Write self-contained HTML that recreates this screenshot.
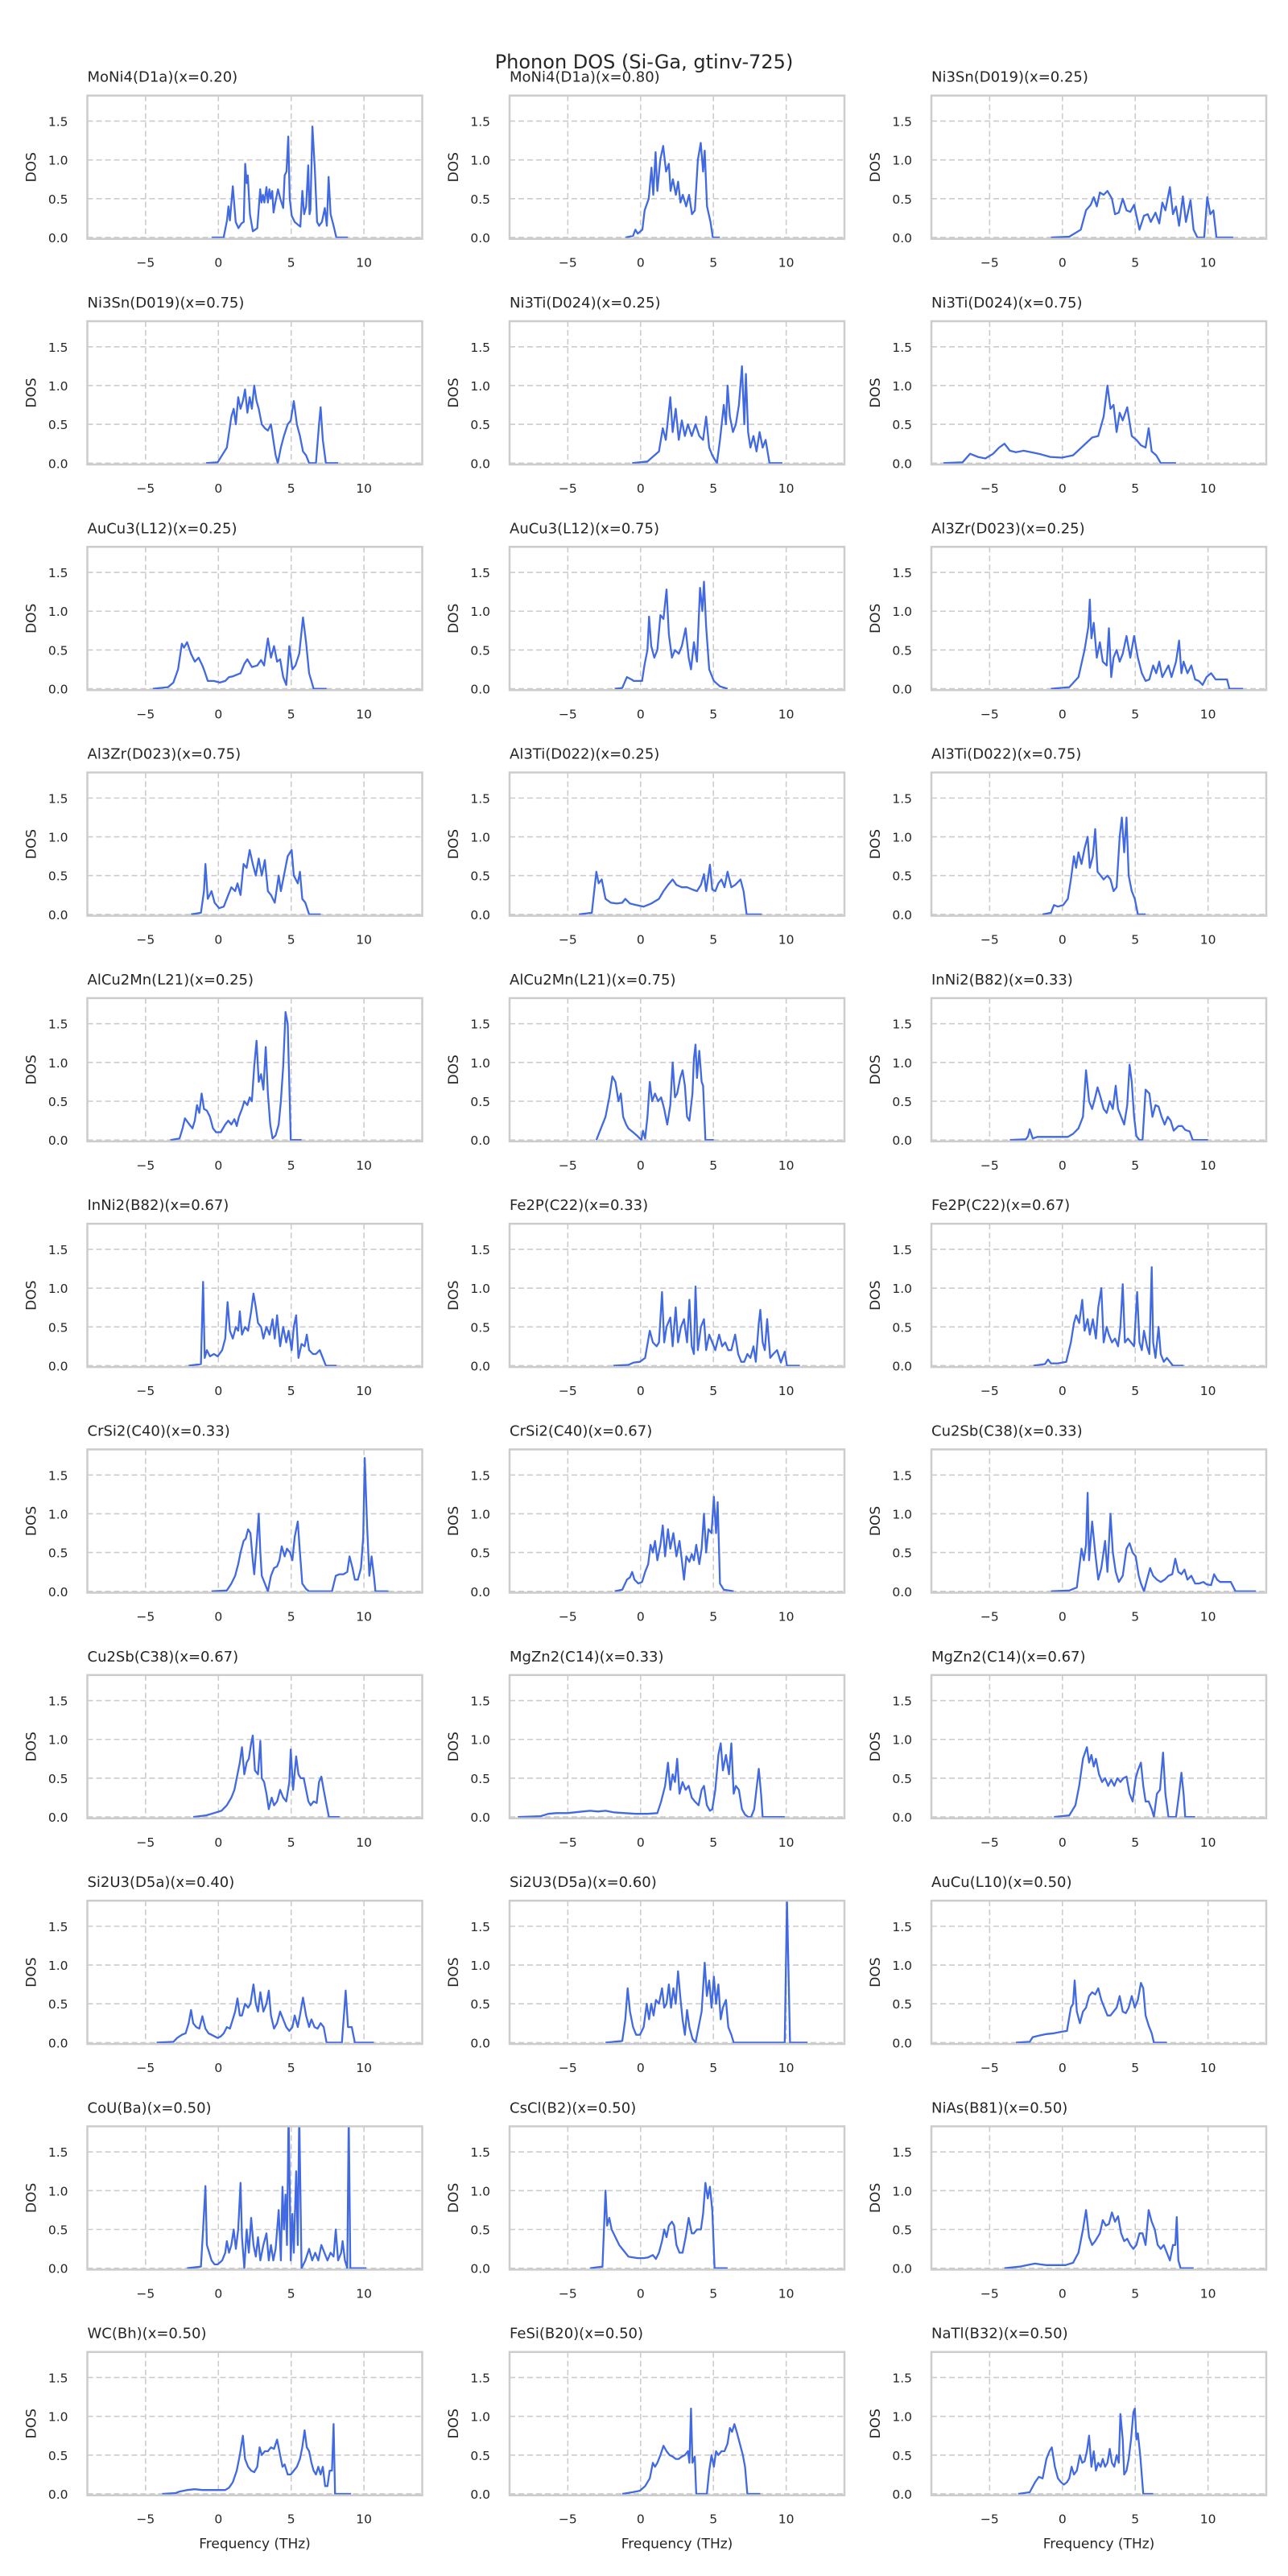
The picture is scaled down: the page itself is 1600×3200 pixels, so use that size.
<!DOCTYPE html>
<html><head><meta charset="utf-8"><title>Phonon DOS (Si-Ga, gtinv-725)</title>
<style>
html,body{margin:0;padding:0;background:#fff;}
svg{display:block;font-family:"DejaVu Sans","Liberation Sans",sans-serif;}
</style></head>
<body>
<svg id="fig" width="1600" height="3200" viewBox="0 0 1600 3200" xmlns="http://www.w3.org/2000/svg">
<rect width="1600" height="3200" fill="#ffffff"/>
<text x="800" y="85" text-anchor="middle" font-size="24" fill="#262626">Phonon DOS (Si-Ga, gtinv-725)</text>
</svg>
<script>
const titles = ["MoNi4(D1a)(x=0.20)","MoNi4(D1a)(x=0.80)","Ni3Sn(D019)(x=0.25)","Ni3Sn(D019)(x=0.75)","Ni3Ti(D024)(x=0.25)","Ni3Ti(D024)(x=0.75)","AuCu3(L12)(x=0.25)","AuCu3(L12)(x=0.75)","Al3Zr(D023)(x=0.25)","Al3Zr(D023)(x=0.75)","Al3Ti(D022)(x=0.25)","Al3Ti(D022)(x=0.75)","AlCu2Mn(L21)(x=0.25)","AlCu2Mn(L21)(x=0.75)","InNi2(B82)(x=0.33)","InNi2(B82)(x=0.67)","Fe2P(C22)(x=0.33)","Fe2P(C22)(x=0.67)","CrSi2(C40)(x=0.33)","CrSi2(C40)(x=0.67)","Cu2Sb(C38)(x=0.33)","Cu2Sb(C38)(x=0.67)","MgZn2(C14)(x=0.33)","MgZn2(C14)(x=0.67)","Si2U3(D5a)(x=0.40)","Si2U3(D5a)(x=0.60)","AuCu(L10)(x=0.50)","CoU(Ba)(x=0.50)","CsCl(B2)(x=0.50)","NiAs(B81)(x=0.50)","WC(Bh)(x=0.50)","FeSi(B20)(x=0.50)","NaTl(B32)(x=0.50)"];
const xTicks = [-5, 0, 5, 10];
const yTicks = [0, 0.5, 1.0, 1.5];
const yTickLabels = ["0.0", "0.5", "1.0", "1.5"];

const freq_1 = [-0.45,0.36,0.59,0.69,0.79,0.99,1.19,1.38,1.58,1.74,1.84,1.94,2.02,2.17,2.37,2.67,2.87,2.96,3.06,3.16,3.3,3.4,3.5,3.6,3.7,3.79,3.91,4.09,4.25,4.45,4.55,4.68,4.8,4.9,5.04,5.24,5.43,5.63,5.77,5.89,6.03,6.17,6.26,6.32,6.46,6.62,6.78,6.92,7.11,7.31,7.45,7.57,7.71,7.91,8.1,8.89];
const dos_1 = [0,0,0.22,0.4,0.22,0.66,0.2,0.12,0.18,0.2,0.95,0.7,0.8,0.3,0.08,0.12,0.62,0.45,0.55,0.45,0.65,0.45,0.62,0.5,0.6,0.32,0.45,0.62,0.5,0.38,0.8,0.85,1.3,0.5,0.28,0.2,0.17,0.14,0.6,0.3,0.4,0.93,0.3,0.35,1.43,0.9,0.2,0.15,0.2,0.38,0.15,0.78,0.3,0.15,0,0];
const freq_2 = [-1.03,-0.52,-0.36,-0.2,0.12,0.28,0.56,0.75,0.87,1.03,1.15,1.35,1.55,1.75,1.94,2.06,2.22,2.42,2.58,2.74,2.9,3.13,3.33,3.53,3.73,3.93,4.13,4.29,4.4,4.56,4.8,4.96,5.44];
const dos_2 = [0,0.02,0.1,0.05,0.1,0.35,0.5,0.9,0.55,1.1,0.6,1.0,1.18,0.85,0.95,0.6,0.75,0.55,0.72,0.45,0.55,0.4,0.55,0.3,0.35,1.0,1.22,0.85,1.12,0.4,0.2,0,0];
const freq_3 = [-0.79,0.47,1.26,1.62,1.94,2.15,2.36,2.57,2.83,3.09,3.4,3.61,3.87,4.14,4.4,4.66,4.92,5.29,5.6,5.86,6.07,6.39,6.65,6.86,7.07,7.38,7.59,7.8,8.01,8.27,8.48,8.8,9.01,9.27,9.74,9.95,10.16,10.37,10.58,11.73];
const dos_3 = [0,0.01,0.1,0.35,0.42,0.52,0.4,0.58,0.55,0.6,0.5,0.3,0.32,0.5,0.35,0.33,0.42,0.1,0.28,0.3,0.2,0.32,0.18,0.45,0.35,0.65,0.3,0.4,0.15,0.53,0.2,0.48,0.1,0,0,0.52,0.3,0.35,0,0];
const freq_4 = [-0.84,-0.05,0.58,0.89,1.05,1.2,1.36,1.52,1.68,1.83,1.99,2.15,2.3,2.46,2.62,2.77,2.98,3.19,3.4,3.61,3.77,3.93,4.08,4.29,4.5,4.76,4.97,5.18,5.39,5.6,5.81,6.02,6.23,6.7,6.91,7.02,7.17,7.38,8.22];
const dos_4 = [0,0.01,0.2,0.6,0.7,0.5,0.85,0.7,0.8,0.95,0.65,0.85,0.7,1.0,0.8,0.7,0.5,0.45,0.42,0.5,0.3,0.1,0,0.2,0.35,0.5,0.55,0.8,0.5,0.35,0.15,0.1,0,0,0.5,0.72,0.3,0,0];
const freq_5 = [-0.58,0.47,1.26,1.52,1.73,2.04,2.2,2.41,2.62,2.83,3.04,3.25,3.51,3.77,4.03,4.29,4.5,4.71,4.92,5.24,5.45,5.71,5.86,5.97,6.13,6.34,6.54,6.75,6.96,7.12,7.23,7.38,7.54,7.75,7.96,8.17,8.38,8.59,8.85,9.74];
const dos_5 = [0,0.02,0.15,0.45,0.3,0.85,0.4,0.7,0.3,0.55,0.35,0.5,0.35,0.5,0.35,0.3,0.6,0.2,0.1,0,0.3,0.75,0.5,1.0,0.6,0.4,0.5,0.75,1.25,0.5,1.15,0.4,0.2,0.35,0.15,0.4,0.2,0.3,0,0];
const freq_6 = [-8.17,-6.86,-6.34,-5.81,-5.29,-4.76,-4.35,-3.98,-3.61,-3.19,-2.67,-2.15,-1.62,-0.84,-0.05,0.73,1.41,2.04,2.46,2.83,3.09,3.3,3.51,3.72,3.93,4.14,4.45,4.76,5.08,5.39,5.71,5.92,6.13,6.44,6.75,7.8];
const dos_6 = [0,0.01,0.12,0.08,0.06,0.12,0.2,0.25,0.16,0.14,0.16,0.14,0.12,0.08,0.07,0.1,0.22,0.33,0.35,0.6,1.0,0.7,0.75,0.4,0.65,0.55,0.72,0.35,0.3,0.23,0.2,0.45,0.15,0.1,0,0];
const freq_7 = [-4.5,-3.46,-3.09,-2.77,-2.51,-2.36,-2.15,-1.88,-1.62,-1.36,-1.1,-0.94,-0.73,-0.31,0.1,0.47,0.73,0.99,1.52,1.78,1.99,2.3,2.67,2.93,3.14,3.4,3.61,3.82,4.03,4.24,4.45,4.66,4.87,5.08,5.29,5.55,5.81,6.02,6.23,6.54,7.43];
const dos_7 = [0,0.02,0.08,0.25,0.58,0.53,0.6,0.45,0.35,0.4,0.3,0.22,0.1,0.1,0.08,0.1,0.15,0.16,0.2,0.32,0.38,0.28,0.3,0.37,0.3,0.65,0.4,0.55,0.35,0.38,0.15,0.05,0.55,0.25,0.3,0.45,0.92,0.6,0.2,0,0];
const freq_8 = [-1.78,-1.26,-0.94,-0.63,-0.47,-0.1,0.1,0.26,0.47,0.58,0.73,0.94,1.15,1.36,1.57,1.78,1.94,2.15,2.36,2.62,2.83,3.09,3.3,3.46,3.66,3.87,4.08,4.24,4.35,4.5,4.71,5.03,5.45,5.97];
const dos_8 = [0,0.01,0.15,0.12,0.1,0.1,0.1,0.3,0.5,0.93,0.55,0.4,0.5,0.95,0.9,1.28,0.7,0.4,0.5,0.45,0.55,0.78,0.4,0.25,0.6,0.35,1.3,1.0,1.38,0.8,0.25,0.1,0.03,0];
const freq_9 = [-0.79,0.47,1.1,1.52,1.78,1.88,1.99,2.15,2.36,2.57,2.77,3.04,3.19,3.35,3.51,3.72,3.93,4.14,4.4,4.66,4.92,5.18,5.45,5.71,5.97,6.23,6.44,6.65,6.86,7.28,7.49,7.8,8.01,8.17,8.32,8.59,8.85,9.11,9.37,9.63,9.9,10.21,10.52,10.94,11.31,11.47,12.41];
const dos_9 = [0,0.02,0.15,0.5,0.8,1.15,0.65,0.85,0.4,0.6,0.35,0.3,0.78,0.15,0.4,0.5,0.35,0.45,0.68,0.4,0.68,0.4,0.2,0.1,0.12,0.3,0.2,0.35,0.15,0.3,0.15,0.35,0.62,0.2,0.35,0.2,0.3,0.12,0.1,0.05,0.15,0.2,0.12,0.12,0.12,0,0];
const freq_10 = [-1.88,-1.2,-0.99,-0.89,-0.73,-0.47,-0.26,0.05,0.37,0.68,0.89,1.15,1.31,1.52,1.73,1.94,2.15,2.36,2.57,2.77,2.98,3.19,3.4,3.61,3.87,4.14,4.29,4.5,4.76,5.03,5.18,5.45,5.6,5.76,5.97,6.23,7.02];
const dos_10 = [0,0.02,0.3,0.65,0.2,0.3,0.15,0.08,0.1,0.25,0.35,0.3,0.4,0.25,0.65,0.6,0.83,0.65,0.5,0.72,0.5,0.7,0.3,0.25,0.15,0.5,0.3,0.5,0.75,0.83,0.5,0.4,0.55,0.2,0.15,0,0];
const freq_11 = [-4.24,-3.35,-3.04,-2.88,-2.67,-2.41,-2.04,-1.62,-1.26,-1.05,-0.73,-0.31,0.21,0.73,1.26,1.57,1.88,2.2,2.46,2.83,3.19,3.56,3.87,4.14,4.35,4.5,4.76,4.92,5.13,5.34,5.55,5.76,5.97,6.23,6.49,6.86,7.07,7.28,8.32];
const dos_11 = [0,0.02,0.55,0.4,0.45,0.2,0.15,0.14,0.15,0.2,0.14,0.12,0.1,0.14,0.2,0.3,0.38,0.45,0.38,0.35,0.35,0.32,0.3,0.38,0.52,0.3,0.64,0.32,0.3,0.4,0.45,0.35,0.55,0.35,0.38,0.45,0.3,0,0];
const freq_12 = [-1.36,-0.79,-0.58,-0.31,0.05,0.37,0.58,0.79,0.94,1.1,1.31,1.52,1.73,1.88,2.09,2.25,2.41,2.62,2.83,3.09,3.3,3.51,3.72,3.93,4.08,4.24,4.4,4.55,4.76,4.97,5.18,5.71];
const dos_12 = [0,0.02,0.12,0.1,0.12,0.2,0.45,0.75,0.6,0.8,0.65,0.85,1.0,0.6,0.75,1.1,0.55,0.5,0.45,0.5,0.45,0.3,0.35,1.0,1.25,0.8,1.25,0.5,0.3,0.2,0,0];
const freq_13 = [-3.3,-2.67,-2.46,-2.3,-1.99,-1.78,-1.62,-1.47,-1.31,-1.15,-0.99,-0.79,-0.58,-0.37,-0.16,0.16,0.47,0.68,0.89,1.1,1.26,1.41,1.62,1.78,1.99,2.15,2.3,2.46,2.62,2.77,2.93,3.09,3.25,3.4,3.56,3.72,3.93,4.14,4.29,4.45,4.61,4.76,4.97,5.71];
const dos_13 = [0,0.02,0.15,0.28,0.2,0.15,0.25,0.45,0.35,0.6,0.4,0.38,0.3,0.15,0.1,0.1,0.2,0.25,0.2,0.27,0.18,0.3,0.4,0.5,0.45,0.55,0.5,0.95,1.28,0.75,0.85,0.65,1.2,0.6,0.2,0.02,0.06,0.2,0.5,0.95,1.65,1.5,0,0];
const freq_14 = [-3.04,-2.41,-2.15,-1.94,-1.73,-1.52,-1.36,-1.2,-0.99,-0.84,-0.52,-0.21,0.05,0.16,0.31,0.47,0.63,0.79,0.99,1.2,1.41,1.62,1.83,2.04,2.2,2.36,2.51,2.72,2.88,3.04,3.19,3.35,3.56,3.66,3.77,3.87,4.03,4.19,4.29,4.45,5.03];
const dos_14 = [0,0.3,0.55,0.82,0.75,0.5,0.6,0.3,0.2,0.15,0.1,0.05,0,0.12,0.02,0.3,0.75,0.5,0.6,0.5,0.55,0.4,0.2,0.45,1.0,0.55,0.6,0.8,0.9,0.7,0.3,0.25,0.6,1.05,1.23,0.8,1.15,0.75,0.7,0,0];
const freq_15 = [-3.61,-2.51,-2.36,-2.25,-2.04,-1.73,-1.1,-0.31,0.37,0.73,1.1,1.41,1.62,1.83,2.04,2.25,2.41,2.62,2.83,3.04,3.25,3.46,3.66,3.82,4.03,4.24,4.45,4.61,4.76,4.92,5.08,5.29,5.5,5.71,5.97,6.18,6.39,6.6,6.81,7.02,7.23,7.43,7.64,7.96,8.22,8.43,8.74,8.95,10.0];
const dos_15 = [0,0.01,0.05,0.14,0.02,0.04,0.04,0.04,0.04,0.08,0.15,0.3,0.9,0.5,0.4,0.55,0.68,0.55,0.4,0.35,0.5,0.4,0.7,0.4,0.3,0.2,0.45,0.97,0.75,0.3,0.05,0,0,0.65,0.6,0.3,0.45,0.43,0.3,0.2,0.3,0.25,0.12,0.18,0.18,0.13,0.11,0,0];
const freq_16 = [-2.04,-1.2,-1.05,-0.94,-0.79,-0.58,-0.31,-0.05,0.26,0.47,0.63,0.79,0.99,1.2,1.36,1.47,1.62,1.83,2.04,2.25,2.41,2.57,2.72,2.93,3.09,3.3,3.51,3.72,3.87,4.03,4.24,4.45,4.66,4.82,5.03,5.18,5.34,5.5,5.71,5.92,6.07,6.23,6.49,6.7,6.96,7.17,7.38,8.12];
const dos_16 = [0,0.02,1.08,0.1,0.2,0.12,0.15,0.12,0.2,0.35,0.82,0.45,0.35,0.5,0.45,0.7,0.4,0.5,0.45,0.7,0.93,0.75,0.55,0.5,0.35,0.5,0.4,0.6,0.35,0.65,0.25,0.5,0.3,0.45,0.2,0.5,0.65,0.1,0.28,0.25,0.4,0.2,0.15,0.15,0.2,0.1,0,0];
const freq_17 = [-1.88,-0.84,-0.47,-0.05,0.31,0.63,0.84,1.1,1.26,1.47,1.62,1.78,2.04,2.2,2.41,2.57,2.77,2.98,3.19,3.35,3.51,3.66,3.77,3.93,4.14,4.35,4.5,4.71,4.92,5.13,5.39,5.6,5.81,6.02,6.23,6.49,6.7,6.91,7.12,7.33,7.54,7.75,7.91,8.12,8.22,8.38,8.53,8.69,8.9,9.11,9.37,9.63,9.9,10.05,10.94];
const dos_17 = [0,0.01,0.04,0.05,0.1,0.45,0.3,0.25,0.3,0.95,0.3,0.5,0.62,0.25,0.75,0.3,0.5,0.6,0.3,0.85,0.25,0.15,1.02,0.2,0.5,0.6,0.2,0.4,0.3,0.2,0.4,0.25,0.3,0.2,0.2,0.4,0.15,0.05,0.05,0.15,0.1,0.25,0.05,0.55,0.72,0.3,0.2,0.6,0.1,0.15,0.2,0.04,0.18,0,0];
const freq_18 = [-1.99,-1.2,-0.99,-0.79,-0.31,0.26,0.58,0.79,0.94,1.15,1.36,1.52,1.73,1.88,2.09,2.3,2.46,2.67,2.83,3.04,3.19,3.4,3.61,3.82,3.98,4.14,4.29,4.5,4.71,4.92,5.13,5.29,5.45,5.6,5.81,5.97,6.13,6.23,6.39,6.6,6.75,6.96,7.17,7.38,7.59,8.32];
const dos_18 = [0,0.02,0.08,0.03,0.03,0.05,0.3,0.55,0.65,0.55,0.85,0.45,0.6,0.4,0.6,0.35,0.75,1.0,0.3,0.5,0.4,0.3,0.35,0.25,0.5,1.05,0.3,0.35,0.3,0.25,0.95,0.3,0.2,0.45,0.25,0.15,1.27,0.3,0.1,0.5,0.15,0.05,0.1,0.05,0,0];
const freq_19 = [-0.47,0.58,0.89,1.15,1.36,1.52,1.73,1.88,2.04,2.2,2.36,2.46,2.62,2.77,2.88,2.98,3.19,3.4,3.61,3.82,4.03,4.19,4.35,4.55,4.71,4.92,5.08,5.24,5.45,5.6,5.76,6.02,6.23,7.8,8.06,8.32,8.59,8.85,9.01,9.21,9.37,9.58,9.79,9.95,10.05,10.21,10.37,10.52,10.68,10.79,11.68];
const dos_19 = [0,0.01,0.1,0.2,0.35,0.5,0.65,0.68,0.8,0.75,0.4,0.22,0.6,1.0,0.5,0.2,0.1,0,0.2,0.3,0.32,0.4,0.58,0.45,0.55,0.5,0.4,0.7,0.9,0.5,0.1,0.03,0,0,0.2,0.22,0.22,0.25,0.45,0.3,0.15,0.15,0.3,0.7,1.72,0.85,0.2,0.45,0.2,0,0];
const freq_20 = [-1.78,-1.26,-0.94,-0.73,-0.58,-0.42,-0.16,0.1,0.31,0.52,0.68,0.84,0.99,1.15,1.36,1.52,1.68,1.88,2.04,2.25,2.46,2.67,2.83,2.98,3.14,3.35,3.51,3.66,3.82,4.03,4.19,4.35,4.5,4.66,4.87,5.03,5.18,5.29,5.45,5.71,6.39];
const dos_20 = [0,0.02,0.15,0.18,0.25,0.15,0.1,0.12,0.25,0.35,0.6,0.5,0.65,0.4,0.6,0.85,0.45,0.8,0.55,0.75,0.45,0.65,0.4,0.15,0.45,0.38,0.48,0.4,0.6,0.35,0.55,1.0,0.5,0.8,0.75,1.22,0.75,1.15,0.1,0.02,0];
const freq_21 = [-0.79,0.47,0.99,1.31,1.47,1.62,1.73,1.83,2.04,2.25,2.46,2.67,2.93,3.09,3.3,3.46,3.66,3.87,4.14,4.4,4.61,4.82,5.03,5.24,5.39,5.6,5.81,6.02,6.23,6.49,6.75,7.02,7.28,7.54,7.75,7.96,8.17,8.38,8.59,8.85,9.11,9.37,9.69,9.9,10.21,10.42,10.63,10.84,11.2,11.57,11.88,13.3];
const dos_21 = [0,0.01,0.05,0.55,0.4,0.6,1.27,0.4,0.9,0.5,0.15,0.3,0.65,0.25,1.0,0.5,0.25,0.12,0.2,0.55,0.62,0.5,0.45,0.2,0.1,0,0.15,0.3,0.2,0.15,0.12,0.15,0.2,0.22,0.42,0.25,0.22,0.28,0.15,0.2,0.1,0.1,0.12,0.09,0.08,0.22,0.15,0.12,0.12,0.12,0,0];
const freq_22 = [-1.73,-0.84,-0.31,0.21,0.58,0.89,1.1,1.31,1.47,1.62,1.78,1.94,2.09,2.25,2.36,2.51,2.72,2.88,2.98,3.14,3.3,3.46,3.66,3.82,4.03,4.24,4.45,4.66,4.87,4.97,5.13,5.34,5.5,5.65,5.86,6.02,6.18,6.34,6.54,6.75,6.91,7.07,7.23,7.43,7.59,8.32];
const dos_22 = [0,0.02,0.05,0.08,0.15,0.25,0.35,0.55,0.7,0.9,0.55,0.7,0.75,0.95,1.05,0.6,0.55,0.98,0.5,0.45,0.3,0.1,0.25,0.15,0.2,0.35,0.25,0.2,0.45,0.87,0.35,0.78,0.55,0.5,0.5,0.35,0.2,0.15,0.2,0.18,0.45,0.52,0.35,0.15,0,0];
const freq_23 = [-8.43,-6.86,-6.34,-5.81,-5.03,-3.98,-3.46,-2.93,-2.41,-1.88,-1.1,-0.31,0.47,1.15,1.41,1.68,1.88,2.04,2.2,2.36,2.51,2.67,2.88,3.09,3.3,3.51,3.72,3.98,4.19,4.35,4.55,4.76,4.92,5.13,5.34,5.5,5.65,5.86,6.07,6.23,6.39,6.54,6.75,6.96,7.17,7.38,7.59,7.8,8.12,8.27,8.38,9.9];
const dos_23 = [0,0.01,0.04,0.05,0.05,0.07,0.08,0.07,0.08,0.06,0.05,0.04,0.04,0.05,0.2,0.4,0.7,0.35,0.55,0.45,0.75,0.3,0.45,0.35,0.4,0.25,0.2,0.15,0.35,0.4,0.15,0.08,0.1,0.35,0.8,0.95,0.6,0.8,0.55,0.95,0.3,0.4,0.35,0.1,0.03,0,0,0.1,0.62,0.3,0,0];
const freq_24 = [-0.58,0.47,0.89,1.15,1.41,1.68,1.83,1.99,2.15,2.3,2.51,2.72,2.93,3.14,3.35,3.56,3.77,3.98,4.19,4.4,4.61,4.82,5.03,5.18,5.39,5.55,5.71,5.92,6.13,6.28,6.49,6.7,6.91,7.07,7.28,7.8,8.01,8.17,8.32,8.43,9.11];
const dos_24 = [0,0.02,0.15,0.4,0.75,0.9,0.7,0.8,0.65,0.75,0.55,0.45,0.5,0.4,0.48,0.4,0.5,0.45,0.5,0.52,0.3,0.2,0.5,0.6,0.7,0.4,0.2,0.2,0.1,0,0.3,0.35,0.83,0.3,0,0,0.3,0.57,0.3,0,0];
const freq_25 = [-4.24,-3.09,-2.83,-2.51,-2.25,-2.04,-1.88,-1.73,-1.52,-1.31,-1.1,-0.89,-0.68,-0.47,-0.26,-0.05,0.16,0.37,0.58,0.79,0.99,1.15,1.31,1.47,1.62,1.83,2.04,2.2,2.41,2.57,2.72,2.88,3.09,3.3,3.46,3.61,3.82,4.03,4.24,4.45,4.66,4.87,5.08,5.24,5.45,5.6,5.81,6.02,6.23,6.39,6.6,6.81,7.02,7.23,7.43,8.48,8.64,8.74,8.9,9.16,9.37,10.68];
const dos_25 = [0,0.01,0.06,0.1,0.12,0.25,0.42,0.25,0.2,0.18,0.34,0.18,0.12,0.1,0.08,0.06,0.08,0.12,0.2,0.18,0.3,0.4,0.57,0.35,0.35,0.5,0.45,0.5,0.75,0.5,0.4,0.65,0.4,0.5,0.67,0.35,0.18,0.25,0.4,0.3,0.2,0.15,0.2,0.35,0.2,0.35,0.58,0.35,0.2,0.3,0.2,0.18,0.25,0.2,0,0,0.4,0.67,0.2,0.2,0,0];
const freq_26 = [-2.41,-1.26,-1.05,-0.89,-0.73,-0.52,-0.31,-0.05,0.21,0.42,0.58,0.73,0.89,1.05,1.26,1.47,1.62,1.78,1.94,2.09,2.25,2.41,2.57,2.72,2.88,3.04,3.19,3.35,3.56,3.77,3.98,4.19,4.4,4.55,4.71,4.87,5.03,5.18,5.34,5.5,5.65,5.86,6.02,6.23,6.39,9.9,10.05,10.26,11.47];
const dos_26 = [0,0.02,0.3,0.7,0.4,0.2,0.1,0.1,0.2,0.5,0.3,0.5,0.35,0.55,0.5,0.7,0.45,0.5,0.75,0.45,0.7,0.5,0.92,0.6,0.3,0.1,0.42,0.2,0.05,0,0.2,0.4,1.03,0.6,0.8,0.45,0.85,0.5,0.75,0.3,0.45,0.55,0.2,0.1,0,0,1.85,0,0];
const freq_27 = [-3.19,-2.25,-2.04,-1.62,-1.1,-0.58,-0.05,0.31,0.58,0.73,0.84,0.99,1.2,1.41,1.62,1.83,2.04,2.25,2.46,2.67,2.88,3.09,3.3,3.51,3.72,3.93,4.14,4.35,4.55,4.76,4.97,5.18,5.39,5.55,5.71,5.92,6.13,6.28,7.17];
const dos_27 = [0,0.01,0.07,0.09,0.11,0.12,0.14,0.15,0.45,0.5,0.8,0.4,0.25,0.4,0.45,0.6,0.65,0.62,0.7,0.55,0.45,0.35,0.35,0.4,0.45,0.6,0.4,0.38,0.45,0.6,0.45,0.55,0.77,0.7,0.35,0.22,0.12,0,0];
const freq_28 = [-2.15,-1.2,-1.05,-0.89,-0.79,-0.63,-0.47,-0.26,-0.05,0.26,0.47,0.58,0.73,0.89,1.05,1.2,1.36,1.52,1.62,1.78,1.94,2.09,2.25,2.41,2.57,2.72,2.88,3.09,3.3,3.46,3.61,3.77,3.93,4.14,4.29,4.4,4.5,4.61,4.71,4.82,4.97,5.08,5.18,5.34,5.45,5.55,5.71,5.97,6.23,6.44,6.65,6.86,7.07,7.28,7.49,7.7,7.91,8.06,8.22,8.43,8.53,8.69,8.85,8.95,9.06,10.16];
const dos_28 = [0,0.02,0.5,1.06,0.3,0.2,0.1,0.05,0.05,0.1,0.2,0.35,0.2,0.3,0.5,0.25,0.5,1.1,0.4,0,0.5,0.2,0.65,0.3,0.15,0.4,0.1,0.3,0.45,0.1,0.3,0.1,0.25,0.75,0.1,1.05,0.5,0.95,0.3,2.0,0.1,0.7,0.2,1.25,0.3,2.0,0,0.1,0.25,0.1,0.2,0.1,0.3,0.2,0.1,0.2,0.15,0.5,0.1,0.2,0.35,0.1,0,2.0,0,0];
const freq_29 = [-3.46,-2.62,-2.41,-2.3,-2.15,-1.99,-1.73,-1.47,-1.26,-1.05,-0.84,-0.52,-0.21,0.21,0.52,0.84,1.05,1.26,1.47,1.62,1.78,1.94,2.15,2.3,2.46,2.67,2.88,3.09,3.3,3.51,3.66,3.87,4.14,4.29,4.45,4.61,4.76,4.92,5.08,5.97];
const dos_29 = [0,0.02,1.0,0.55,0.65,0.5,0.4,0.3,0.25,0.2,0.15,0.14,0.13,0.13,0.14,0.17,0.12,0.2,0.35,0.5,0.4,0.55,0.6,0.55,0.3,0.2,0.2,0.4,0.65,0.45,0.45,0.5,0.5,0.7,1.1,0.9,1.05,0.75,0,0];
const freq_30 = [-3.98,-2.93,-2.41,-1.88,-1.52,-1.1,-0.47,0.21,0.73,1.1,1.41,1.62,1.83,2.04,2.25,2.57,2.77,2.98,3.19,3.4,3.61,3.82,4.03,4.24,4.45,4.66,4.87,5.08,5.29,5.5,5.71,5.92,6.13,6.34,6.54,6.75,6.96,7.17,7.38,7.59,7.75,7.85,7.96,8.12,9.01];
const dos_30 = [0,0.02,0.04,0.06,0.05,0.04,0.04,0.04,0.07,0.2,0.5,0.75,0.4,0.3,0.35,0.45,0.62,0.55,0.57,0.72,0.6,0.67,0.45,0.35,0.38,0.3,0.25,0.3,0.45,0.45,0.3,0.75,0.6,0.5,0.3,0.25,0.3,0.2,0.1,0.3,0.3,0.66,0.1,0,0];
const freq_31 = [-3.87,-2.93,-2.67,-2.15,-1.62,-1.1,-0.31,0.47,0.73,0.99,1.26,1.47,1.68,1.83,2.04,2.25,2.46,2.67,2.83,2.98,3.19,3.4,3.61,3.82,4.03,4.24,4.4,4.55,4.76,4.97,5.18,5.39,5.6,5.76,5.92,6.07,6.23,6.39,6.54,6.7,6.86,7.02,7.17,7.33,7.49,7.64,7.8,7.91,8.01,9.11];
const dos_31 = [0,0.01,0.03,0.05,0.06,0.05,0.05,0.05,0.08,0.15,0.3,0.5,0.75,0.45,0.35,0.3,0.28,0.35,0.6,0.5,0.55,0.55,0.6,0.58,0.7,0.5,0.35,0.38,0.25,0.25,0.3,0.35,0.45,0.6,0.82,0.6,0.55,0.4,0.3,0.25,0.35,0.25,0.35,0.1,0.1,0.3,0.3,0.9,0,0];
const freq_32 = [-1.26,-0.58,-0.05,0.31,0.63,0.84,0.99,1.15,1.36,1.57,1.78,1.99,2.2,2.41,2.62,2.83,3.04,3.25,3.35,3.46,3.56,3.72,3.82,4.55,4.71,4.87,5.03,5.18,5.34,5.55,5.76,5.97,6.13,6.28,6.44,6.6,6.81,7.02,7.17,7.33,8.22];
const dos_32 = [0,0.02,0.04,0.1,0.2,0.4,0.35,0.4,0.5,0.62,0.55,0.5,0.48,0.45,0.45,0.48,0.5,0.55,0.4,1.1,0.4,0.48,0,0,0.3,0.5,0.35,0.55,0.5,0.55,0.55,0.65,0.85,0.8,0.9,0.8,0.65,0.5,0.35,0,0];
const freq_33 = [-3.04,-2.25,-1.88,-1.62,-1.36,-1.1,-0.89,-0.73,-0.52,-0.31,-0.1,0.1,0.31,0.47,0.63,0.79,0.99,1.2,1.36,1.52,1.68,1.83,1.99,2.15,2.3,2.46,2.62,2.77,2.93,3.09,3.25,3.4,3.56,3.72,3.87,3.98,4.14,4.24,4.4,4.55,4.71,4.87,4.97,5.08,5.18,5.34,5.55,6.23];
const dos_33 = [0,0.02,0.15,0.22,0.2,0.45,0.55,0.6,0.35,0.2,0.15,0.12,0.15,0.2,0.35,0.25,0.3,0.5,0.4,0.42,0.55,0.75,0.35,0.55,0.3,0.4,0.35,0.45,0.35,0.4,0.58,0.4,0.35,0.5,0.4,1.03,0.7,0.25,0.3,0.45,0.7,1.05,1.1,0.7,0.78,0.5,0,0];

const freqSeries = [freq_1,freq_2,freq_3,freq_4,freq_5,freq_6,freq_7,freq_8,freq_9,freq_10,freq_11,freq_12,freq_13,freq_14,freq_15,freq_16,freq_17,freq_18,freq_19,freq_20,freq_21,freq_22,freq_23,freq_24,freq_25,freq_26,freq_27,freq_28,freq_29,freq_30,freq_31,freq_32,freq_33];
const dosSeries = [dos_1,dos_2,dos_3,dos_4,dos_5,dos_6,dos_7,dos_8,dos_9,dos_10,dos_11,dos_12,dos_13,dos_14,dos_15,dos_16,dos_17,dos_18,dos_19,dos_20,dos_21,dos_22,dos_23,dos_24,dos_25,dos_26,dos_27,dos_28,dos_29,dos_30,dos_31,dos_32,dos_33];

(function(){
  const NS = "http://www.w3.org/2000/svg";
  const svg = document.getElementById("fig");
  const colLeft = [108.5, 633, 1157];
  const W = 416, H = 178, top0 = 118.7, rowStep = 280.3;
  const XMIN = -9, XMAX = 14, YMIN = -0.018, YMAX = 1.83;
  function mk(tag, attrs, parent){
    const e = document.createElementNS(NS, tag);
    for (const k in attrs) e.setAttribute(k, attrs[k]);
    (parent || svg).appendChild(e);
    return e;
  }
  const defs = mk("defs", {});
  for (let i = 0; i < titles.length; i++) {
    const col = i % 3, row = Math.floor(i / 3);
    const L = colLeft[col], T = top0 + row * rowStep;
    const xs = v => L + (v - XMIN) / (XMAX - XMIN) * W;
    const ys = v => T + H - (v - YMIN) / (YMAX - YMIN) * H;
    const g = mk("g", {});
    
    
    const cp = mk("clipPath", {id: "clip" + i}, defs);
    mk("rect", {x: L, y: T, width: W, height: H}, cp);
    xTicks.forEach(t => {
      const ln = mk("line", {x1: xs(t), x2: xs(t), y1: T, y2: T + H, stroke: "#cccccc", "stroke-width": 1.6, "stroke-dasharray": "7,4"}, g);
      
      
      const tl = mk("text", {x: xs(t), y: T + H + 35, "text-anchor": "middle", "font-size": 15.5, fill: "#262626"}, g);
      tl.textContent = t < 0 ? "\u2212" + Math.abs(t) : String(t);
      
      
    });
    yTicks.forEach((t, k) => {
      const ln = mk("line", {x1: L, x2: L + W, y1: ys(t), y2: ys(t), stroke: "#cccccc", "stroke-width": 1.6, "stroke-dasharray": "7,4"}, g);
      
      
      const tl = mk("text", {x: L - 24, y: ys(t) + 6, "text-anchor": "end", "font-size": 15.5, fill: "#262626"}, g);
      tl.textContent = yTickLabels[k];
      
      
    });
    const fr = freqSeries[i], ds = dosSeries[i];
    let d = "";
    for (let j = 0; j < fr.length; j++) d += (j ? "L" : "M") + xs(fr[j]).toFixed(1) + "," + ys(ds[j]).toFixed(1);
    const p = mk("path", {d: d, fill: "none", stroke: "#4169e1", "stroke-width": 2.3, "stroke-linejoin": "round", "clip-path": "url(#clip" + i + ")"}, g);
    
    
    const fr2 = mk("rect", {x: L, y: T, width: W, height: H, fill: "none", stroke: "#cccccc", "stroke-width": 2.5}, g);
    
    
    const tt = mk("text", {x: L, y: T - 17, "font-size": 18, fill: "#262626"}, g);
    tt.textContent = titles[i];
    
    
    const yl = mk("text", {x: 0, y: 0, "font-size": 17, fill: "#262626", "text-anchor": "middle", transform: "translate(" + (L - 64) + "," + (T + H / 2) + ") rotate(-90)"}, g);
    yl.textContent = "DOS";
    
    
    if (row === 10) {
      const xl = mk("text", {x: L + W / 2, y: T + H + 66, "font-size": 17, fill: "#262626", "text-anchor": "middle"}, g);
      xl.textContent = "Frequency (THz)";
      
      
    }
  }
})();
</script>
</body></html>
